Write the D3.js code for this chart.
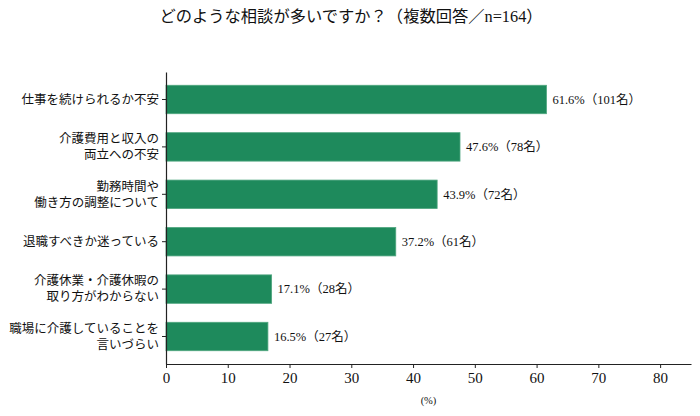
<!DOCTYPE html>
<html>
<head>
<meta charset="utf-8">
<script src="https://cdn.jsdelivr.net/npm/d3@7"></script>
<style>
  body { margin: 0; background: #fff; }
  text { font-family: "Liberation Serif", "Noto Sans CJK JP", serif; fill: #111; }
</style>
</head>
<body>
<svg id="chart" width="700" height="416"></svg>
<script>
// data
const categories = [
  ["仕事を続けられるか不安"],
  ["介護費用と収入の", "両立への不安"],
  ["勤務時間や", "働き方の調整について"],
  ["退職すべきか迷っている"],
  ["介護休業・介護休暇の", "取り方がわからない"],
  ["職場に介護していることを", "言いづらい"]
];
const percents = [61.6, 47.6, 43.9, 37.2, 17.1, 16.5];
const counts = [101, 78, 72, 61, 28, 27];
const xTicks = [0, 10, 20, 30, 40, 50, 60, 70, 80];

const svg = d3.select("#chart");
const margin = {top: 72, right: 9, bottom: 52, left: 166};
const width = 700 - margin.left - margin.right;
const height = 416 - margin.top - margin.bottom;

const g = svg.append("g").attr("transform", `translate(${margin.left},${margin.top})`);

const x = d3.scaleLinear().domain([0, 85]).range([0, width]);
const y = d3.scaleBand()
  .domain(d3.range(categories.length))
  .range([0, height])
  .paddingInner(0.4)
  .paddingOuter(0.28);

// title
svg.append("text")
  .attr("x", 351).attr("y", 22)
  .attr("text-anchor", "middle")
  .style("font-size", "16.3px")
  .text("どのような相談が多いですか？（複数回答／n=164）");

// bars
g.selectAll("rect.bar")
  .data(percents)
  .join("rect")
  .attr("class", "bar")
  .attr("x", 0)
  .attr("y", (d, i) => y(i))
  .attr("width", d => x(d))
  .attr("height", y.bandwidth())
  .attr("fill", "#1e8a5c")
  .attr("stroke", "#4fa67f")
  .attr("stroke-width", 0.8);

// value labels
g.selectAll("text.val")
  .data(percents)
  .join("text")
  .attr("class", "val")
  .attr("x", d => x(d) + 6)
  .attr("y", (d, i) => y(i) + y.bandwidth() / 2)
  .attr("dy", "0.35em")
  .style("font-size", "12.5px")
  .text((d, i) => `${d.toFixed(1)}%（${counts[i]}名）`);

// x axis
const xAxis = g.append("g")
  .attr("transform", `translate(0,${height})`)
  .call(d3.axisBottom(x).tickValues(xTicks).tickSize(4).tickPadding(4).tickSizeOuter(0));
xAxis.select(".domain").attr("stroke", "#222").attr("stroke-width", 1.2);
xAxis.selectAll(".tick line").attr("stroke", "#222");
xAxis.selectAll(".tick text").style("font-size", "15px").attr("fill", "#111");

svg.append("text")
  .attr("x", margin.left + width / 2).attr("y", 404)
  .attr("text-anchor", "middle")
  .style("font-size", "10.5px")
  .text("(%)");

// y axis
const yAxis = g.append("g")
  .call(d3.axisLeft(y).tickSize(4).tickSizeOuter(0).tickFormat(""));
yAxis.select(".domain").attr("stroke", "#222").attr("stroke-width", 1.2);
yAxis.selectAll(".tick line").attr("stroke", "#222");

// category labels, one or two lines
const lineH = 16;
g.selectAll("text.cat")
  .data(categories)
  .join("text")
  .attr("class", "cat")
  .attr("text-anchor", "end")
  .style("font-size", "12.5px")
  .attr("transform", (d, i) => `translate(-7,${y(i) + y.bandwidth() / 2})`)
  .each(function(lines) {
    const t = d3.select(this);
    lines.forEach((s, k) => {
      t.append("tspan")
        .attr("x", 0)
        .attr("y", (k - (lines.length - 1) / 2) * lineH)
        .attr("dy", "0.35em")
        .text(s);
    });
  });
</script>
</body>
</html>
